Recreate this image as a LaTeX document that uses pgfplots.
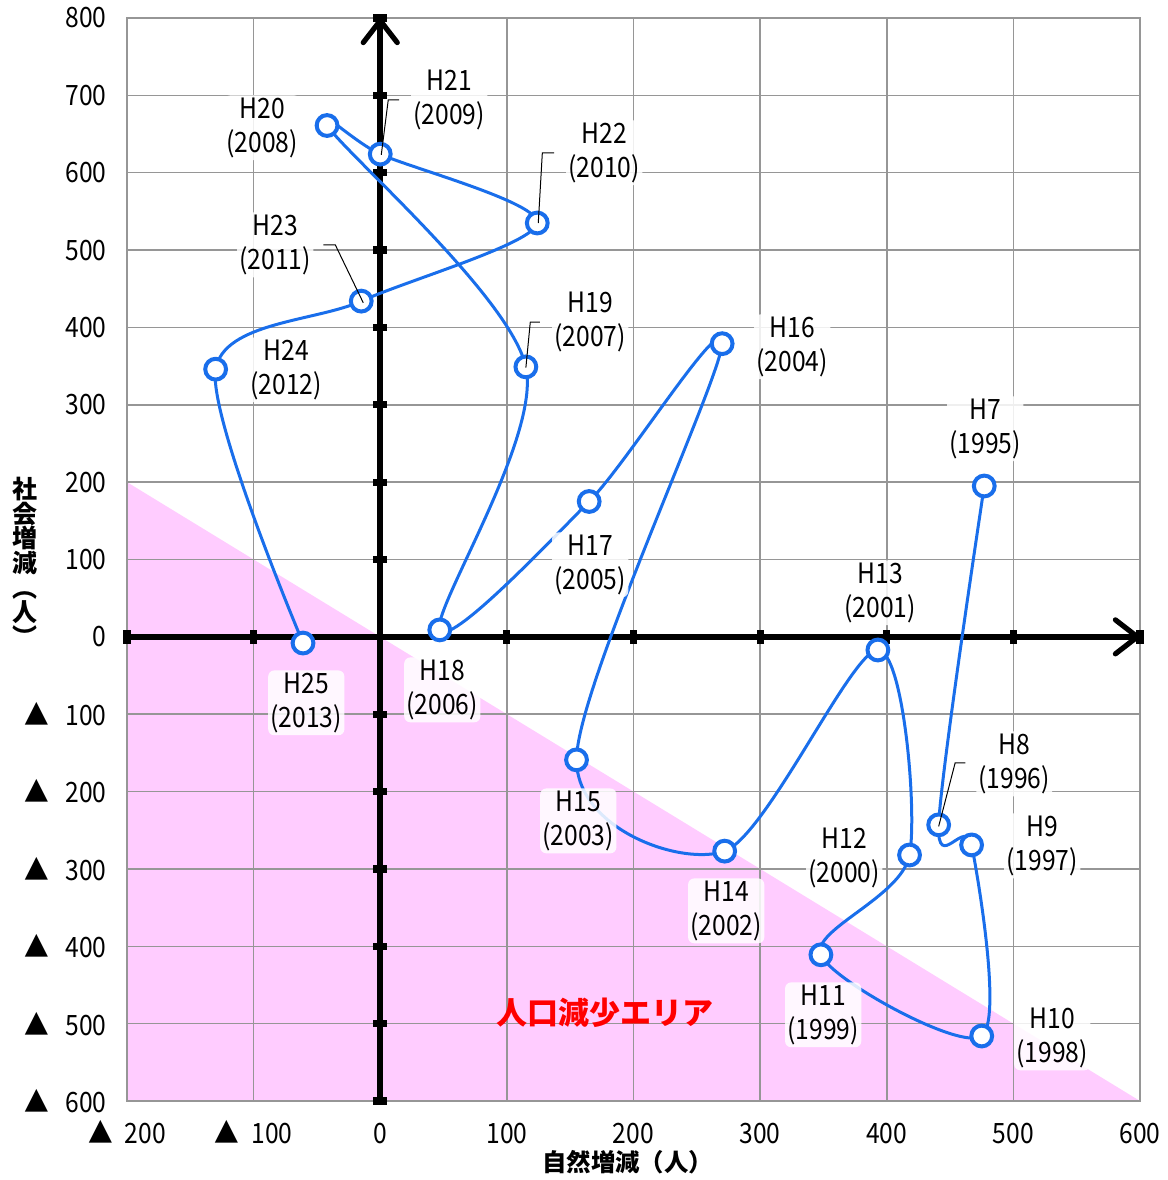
\documentclass[border=0pt]{standalone}
\usepackage{pgfplots}
\pgfplotsset{compat=1.18}
\usepackage{fontspec}
\setmainfont{Noto Sans CJK JP}
\newfontfamily\labfont[FakeStretch=0.88]{Noto Sans CJK JP}
\usetikzlibrary{arrows.meta}
\definecolor{lineblue}{RGB}{25,110,235}
\definecolor{pinkarea}{RGB}{255,204,255}
\definecolor{gridgray}{RGB}{150,150,150}
\pgfdeclareplotmark{hbar}{\pgfpathrectangle{\pgfpoint{-3.6pt}{-1.8pt}}{\pgfpoint{7.2pt}{3.6pt}}\pgfusepathqfill}
\pgfdeclareplotmark{vbar}{\pgfpathrectangle{\pgfpoint{-1.8pt}{-3.6pt}}{\pgfpoint{3.6pt}{7.2pt}}\pgfusepathqfill}
\tikzset{
  lab/.style={align=center, inner sep=1.2pt, rounded corners=3pt, fill=white, fill opacity=0.85, text opacity=1,
    font=\labfont\fontsize{14}{17}\selectfont},
}
\newcommand{\hl}[3]{\node[lab] at (axis cs:#1,#2) {#3};}
\begin{document}
\begin{tikzpicture}
\begin{axis}[
  name=ax,
  set layers,
  clip mode=individual,
  scale only axis, width=506.5pt, height=541.5pt,
  xmin=-200, xmax=600, ymin=-600, ymax=800,
  xtick={-200,-100,0,100,200,300,400,500,600},
  ytick={-600,-500,-400,-300,-200,-100,0,100,200,300,400,500,600,700,800},
  xticklabels={▲\hskip6pt 200,▲\hskip6pt 100,0,100,200,300,400,500,600},
  yticklabels={▲\hskip8pt 600,▲\hskip8pt 500,▲\hskip8pt 400,▲\hskip8pt 300,▲\hskip8pt 200,▲\hskip8pt 100,0,100,200,300,400,500,600,700,800},
  grid=major,
  major grid style={gridgray, line width=0.75pt},
  axis line style={gridgray, line width=0.75pt},
  major tick length=0pt,
  tick label style={font=\labfont\fontsize{14}{17}\selectfont},
  xticklabel style={anchor=base, inner sep=0pt, yshift=-21pt},
  yticklabel style={anchor=east, inner sep=0pt, xshift=-10pt},
]
% population decrease area
\addplot[draw=none, fill=pinkarea, on layer=axis background] coordinates {(-200,200) (600,-600) (-200,-600)} -- cycle;

% central axes
\addplot[black, line width=3.2pt, -{Straight Barb[length=11pt, width=17pt, line width=2.6pt, round]}] coordinates {(0,-600) (0,800)};
\addplot[black, line width=3.2pt, -{Straight Barb[length=11pt, width=17pt, line width=2.6pt, round]}] coordinates {(-200,0) (600,0)};
\addplot[black, only marks, mark=hbar] coordinates {(0,-600)(0,-500)(0,-400)(0,-300)(0,-200)(0,-100)(0,100)(0,200)(0,300)(0,400)(0,500)(0,600)(0,700)(0,800)};
\addplot[black, only marks, mark=vbar] coordinates {(-200,0)(-100,0)(100,0)(200,0)(300,0)(400,0)(500,0)(600,0)};

% trajectory H7 (1995) ... H25 (2013)
\addplot[lineblue, line width=1.5pt, smooth, tension=0.5, mark=*, mark size=5.2pt,
  mark options={fill=white, draw=lineblue, line width=2pt}] coordinates {
  (477,195) (441,-243) (467,-269) (475,-516) (348,-411) (418,-282) (393,-17)
  (272,-277) (155,-159) (270,379) (165,175) (47,9) (115,349) (-42,661)
  (0,624) (124,535) (-15,434) (-130,346) (-61,-8)};

% leader lines
\draw[black, line width=0.5pt] (axis cs:462,-163) -- (axis cs:454,-163) -- (axis cs:441,-245);
\draw[black, line width=0.5pt] (axis cs:126,407) -- (axis cs:118.5,407) -- (axis cs:115,348);
\draw[black, line width=0.5pt] (axis cs:15,694) -- (axis cs:6.3,694) -- (axis cs:0.8,623);
\draw[black, line width=0.5pt] (axis cs:137.4,625.7) -- (axis cs:128,625.7) -- (axis cs:124.8,535);
\draw[black, line width=0.5pt] (axis cs:-45,506.7) -- (axis cs:-35.5,506.7) -- (axis cs:-13.4,431.8);

% labels
\hl{477.8}{268.9}{H7\\(1995)}
\hl{500.7}{-164.2}{H8\\(1996)}
\hl{522.8}{-270.2}{H9\\(1997)}
\hl{530.7}{-518.4}{H10\\(1998)}
\hl{349.8}{-488.6}{H11\\(1999)}
\hl{366.4}{-285.7}{H12\\(2000)}
\hl{394.9}{56.9}{H13\\(2001)}
\hl{273.2}{-354.2}{H14\\(2002)}
\hl{156.4}{-237.9}{H15\\(2003)}
\hl{325.4}{374.9}{H16\\(2004)}
\hl{165.8}{93.1}{H17\\(2005)}
\hl{49.0}{-68.5}{H18\\(2006)}
\hl{165.8}{407.2}{H19\\(2007)}
\hl{-93.2}{658.0}{H20\\(2008)}
\hl{54.5}{694.2}{H21\\(2009)}
\hl{176.9}{625.7}{H22\\(2010)}
\hl{-82.9}{506.7}{H23\\(2011)}
\hl{-74.2}{345.2}{H24\\(2012)}
\hl{-58.4}{-85.3}{H25\\(2013)}

% area caption
\node[text=red, font=\bfseries\fontsize{15.5}{16}\selectfont] at (axis cs:177.7,-486.1) {人口減少エリア};

% axis titles
\node[font=\bfseries\fontsize{12.2}{14}\selectfont] at (axis cs:195.4,-678.7) {自然増減（人）};
\node[align=center, font=\bfseries\fontsize{12.5}{12.3}\selectfont] at (axis cs:-280.4,97) {社\\会\\増\\減\\︵\\人\\︶};
\end{axis}
\pgfresetboundingbox
\path ([shift={(-63.5pt,-39.5pt)}]ax.south west) rectangle ([shift={(14pt,9pt)}]ax.north east);
\end{tikzpicture}
\end{document}
